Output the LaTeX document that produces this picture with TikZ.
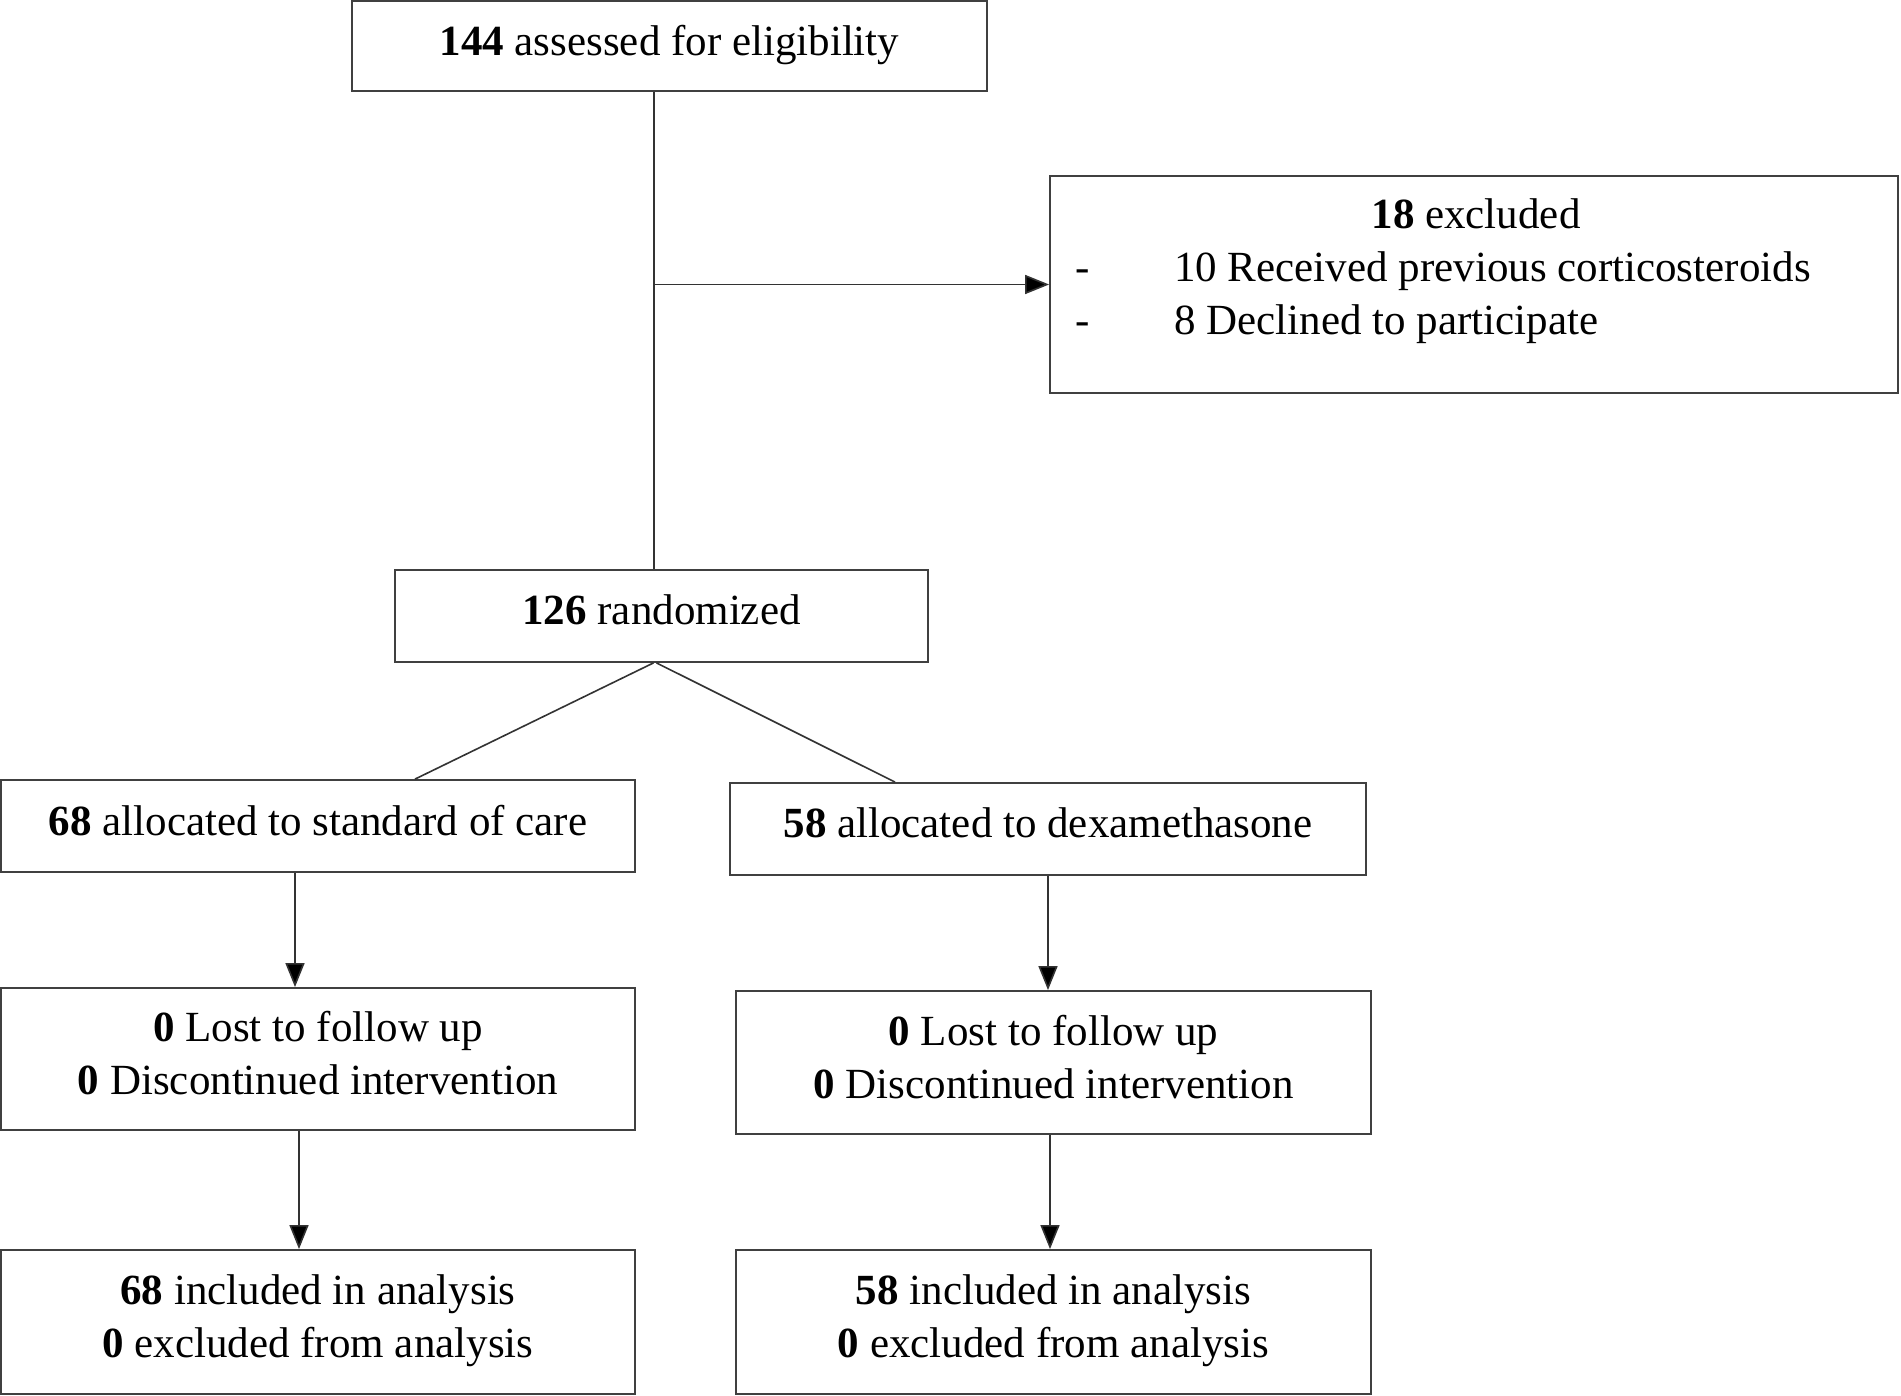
\documentclass[tikz,border=0pt]{standalone}
\usepackage{fontspec}
\setmainfont{Liberation Serif}
\usetikzlibrary{arrows.meta,calc}

\tikzset{
    box/.style = {draw = black!75, line width = 1.8pt, align = center, inner sep = 0pt, text depth = 12pt},
    arr/.style = {draw = black!80, line width = 1.6pt, -{Triangle[length=24pt, width=19pt, fill=black]}},
    conn/.style = {draw = black!80, line width = 1.6pt},
    txt/.style = {inner sep = 0pt}
}

\begin{document}
\begin{tikzpicture}[x=1pt, y=-1pt, font=\fontsize{43}{53}\selectfont]
        \useasboundingbox (0,0) rectangle (1901,1396);
        \node[box, minimum width = 635pt, minimum height = 90pt] (assessed) at (669.5,46)
            {\textbf{144} assessed for eligibility};
        \node[box, minimum width = 848pt, minimum height = 217pt] (excluded) at (1474,284.5) {};
        \node[txt, anchor = base] (exclhead) at (1476,229) {\textbf{18} excluded};
        \node[txt, anchor = base] (dashone) at (1083,282) {-};
        \node[txt, anchor = base west] (steroids) at (1174,282) {10 Received previous corticosteroids};
        \node[txt, anchor = base] (dashtwo) at (1083,335) {-};
        \node[txt, anchor = base west] (declined) at (1174,335) {8 Declined to participate};
        \node[box, minimum width = 533pt, minimum height = 92pt] (random) at (661.5,616)
            {\textbf{126} randomized};
        \node[box, minimum width = 634pt, minimum height = 92pt] (soc) at (318,826)
            {\textbf{68} allocated to standard of care};
        \node[box, minimum width = 636pt, minimum height = 92pt] (dexa) at (1048,829)
            {\textbf{58} allocated to dexamethasone};
        \node[box, minimum width = 634pt, minimum height = 142pt] (lostsoc) at (318,1059)
            {\textbf{0} Lost to follow up\\ \textbf{0} Discontinued intervention};
        \node[box, minimum width = 635pt, minimum height = 143pt] (lostdexa) at (1053.5,1062.5)
            {\textbf{0} Lost to follow up\\ \textbf{0} Discontinued intervention};
        \node[box, minimum width = 634pt, minimum height = 144pt] (inclsoc) at (318,1322)
            {\textbf{68} included in analysis\\ \textbf{0} excluded from analysis};
        \node[box, minimum width = 635pt, minimum height = 144pt] (incldexa) at (1053.5,1322)
            {\textbf{58} included in analysis\\ \textbf{0} excluded from analysis};

        % enrolment
        \coordinate (split) at (654,284.5);
        \draw[conn] (assessed.south -| split) -- (random.north -| split);
        \draw[arr] (split) -- (excluded.west);

        % allocation
        \draw[conn] ($(random.south)+(-8,0)$) -- ($(soc.north)+(97,0)$);
        \draw[conn] ($(random.south)+(-5,0)$) -- ($(dexa.north)+(-153,0)$);

        % follow up and analysis
        \draw[arr] ($(soc.south)+(-23,0)$) -- ($(lostsoc.north)+(-23,0)$);
        \draw[arr] (dexa.south) -- (dexa.south |- lostdexa.north);
        \draw[arr] ($(lostsoc.south)+(-19,0)$) -- ($(inclsoc.north)+(-19,0)$);
        \draw[arr] ($(lostdexa.south)+(-3.5,0)$) -- ($(incldexa.north)+(-3.5,0)$);
\end{tikzpicture}
\end{document}
